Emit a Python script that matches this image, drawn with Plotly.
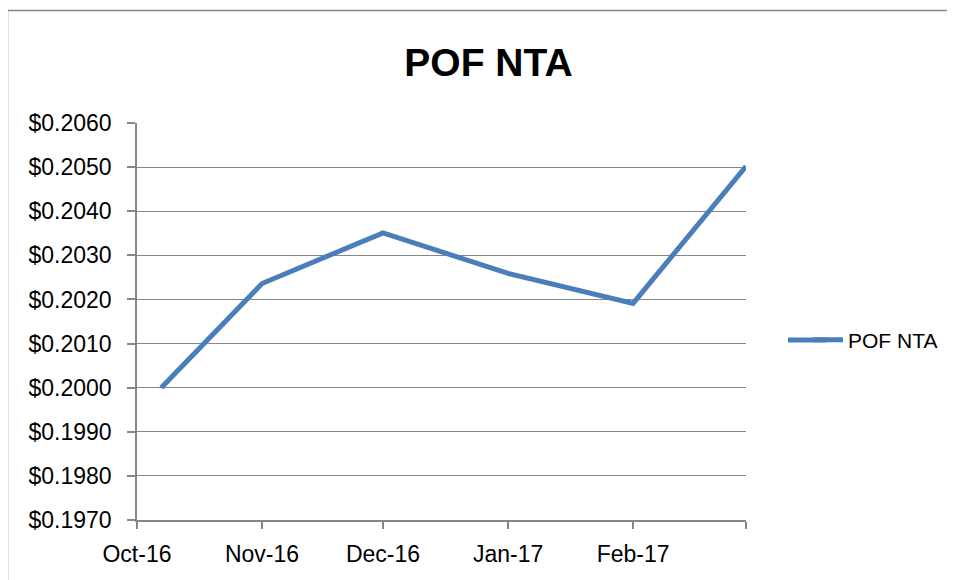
import plotly.graph_objects as go

# Data
dates = ["2016-10-07", "2016-11-01", "2016-12-01", "2017-01-01", "2017-02-01", "2017-03-01"]
nta = [0.2000, 0.20236, 0.20351, 0.20259, 0.20191, 0.20502]
series_name = "POF NTA"
tick_dates = ["2016-10-01", "2016-11-01", "2016-12-01", "2017-01-01", "2017-02-01", "2017-03-01"]
tick_labels = ["Oct-16", "Nov-16", "Dec-16", "Jan-17", "Feb-17", ""]
y_ticks = [0.197 + 0.001 * i for i in range(10)]

# page body has an 8px margin; work in reference pixel coords and shift
OFF = 8
W, H = 955 - OFF, 580 - OFF
L, T = 137 - OFF, 123 - OFF
R = W - (746 - OFF)
B = H - (520 - OFF)
pw, ph = W - L - R, H - T - B

def px_x(px):  # reference pixel -> paper x
    return (px - OFF - L) / pw

def px_y(py):  # reference pixel -> paper y
    return (H - B - (py - OFF)) / ph

FONT = "Liberation Sans, Arial, sans-serif"
GRAY = "#868686"
BLUE = "#4A7EBB"

fig = go.Figure()
fig.add_trace(go.Scatter(
    x=dates, y=nta, mode="lines", name=series_name,
    line=dict(color=BLUE, width=5),
))

fig.update_layout(
    width=W, height=H,
    margin=dict(l=L, r=R, t=T, b=B),
    paper_bgcolor="white", plot_bgcolor="white",
    font=dict(family=FONT, size=23, color="black"),
    title=dict(text="<b>POF NTA</b>", x=(488.5 - OFF) / W, xanchor="center",
               y=1 - (62 - OFF) / H, yanchor="middle",
               font=dict(family=FONT, size=39, color="black")),
    showlegend=True,
    legend=dict(x=px_x(808), xanchor="left",
                y=px_y(340), yanchor="middle",
                font=dict(size=21), bgcolor="rgba(0,0,0,0)"),
    xaxis=dict(
        type="date", range=["2016-10-01", "2017-03-01"],
        tickvals=tick_dates, ticktext=tick_labels,
        showgrid=False, zeroline=False,
        showline=True, linecolor=GRAY, linewidth=1.5,
        ticks="outside", ticklen=7, tickcolor=GRAY, tickwidth=1.5,
        ticklabelstandoff=6,
        tickfont=dict(size=23),
    ),
    yaxis=dict(
        range=[0.197, 0.206],
        tickvals=y_ticks, tickformat="$.4f",
        showgrid=True, gridcolor=GRAY, gridwidth=1.2,
        zeroline=False,
        showline=True, linecolor=GRAY, linewidth=1.5,
        ticks="outside", ticklen=8, tickcolor=GRAY, tickwidth=1.5,
        ticklabelstandoff=11,
        tickfont=dict(size=23),
    ),
    shapes=[
        dict(type="rect", xref="paper", yref="paper",
             x0=px_x(7.5), x1=px_x(965), y0=px_y(595), y1=px_y(10.5),
             line=dict(color=GRAY, width=1.5), layer="below"),
        # lengthen the legend key line to match the reference style
        dict(type="line", xref="paper", yref="paper",
             x0=px_x(788), x1=px_x(826), y0=px_y(340), y1=px_y(340),
             line=dict(color=BLUE, width=5)),
    ],
)

fig.write_html("out.html")
